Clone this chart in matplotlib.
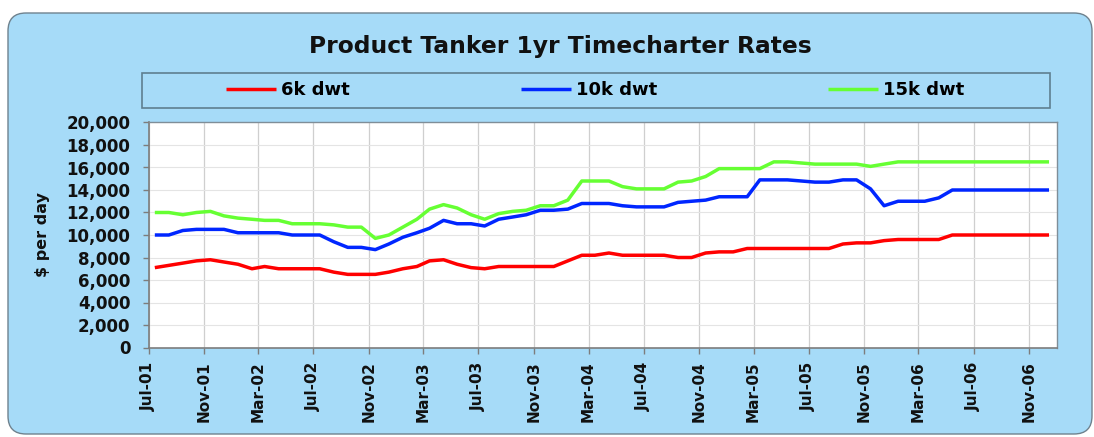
"""
Product tanker 1yr timecharter rates, 6k / 10k / 15k dwt
"""
import matplotlib
matplotlib.use("Agg")
import matplotlib.pyplot as plt
import matplotlib.dates as mdates
from matplotlib.patches import FancyBboxPatch, Rectangle
from matplotlib.ticker import MultipleLocator, StrMethodFormatter
import pandas as pd

# ── Data (monthly, Jul-01 .. Dec-06) ─────────────────────────────────
months = pd.date_range("2001-07-01", "2006-12-01", freq="MS")

rate_6k = [
    7100, 7300, 7500, 7700, 7800, 7600, 7400, 7000, 7200, 7000, 7000, 7000, 7000, 6700, 6500, 6500,
    6500, 6700, 7000, 7200, 7700, 7800, 7400, 7100, 7000, 7200, 7200, 7200, 7200, 7200, 7700, 8200,
    8200, 8400, 8200, 8200, 8200, 8200, 8000, 8000, 8400, 8500, 8500, 8800, 8800, 8800, 8800, 8800,
    8800, 8800, 9200, 9300, 9300, 9500, 9600, 9600, 9600, 9600,
    10000, 10000, 10000, 10000, 10000, 10000, 10000, 10000,
]
rate_10k = [
    10000, 10000, 10400, 10500, 10500, 10500, 10200, 10200, 10200, 10200, 10000, 10000, 10000, 9400, 8900, 8900,
    8700, 9200, 9800, 10200, 10600, 11300, 11000, 11000, 10800, 11400, 11600, 11800, 12200, 12200, 12300, 12800,
    12800, 12800, 12600, 12500, 12500, 12500, 12900, 13000, 13100, 13400, 13400, 13400, 14900, 14900, 14900, 14800,
    14700, 14700, 14900, 14900, 14100, 12600, 13000, 13000, 13000, 13300,
    14000, 14000, 14000, 14000, 14000, 14000, 14000, 14000,
]
rate_15k = [
    12000, 12000, 11800, 12000, 12100, 11700, 11500, 11400, 11300, 11300, 11000, 11000, 11000, 10900, 10700, 10700,
    9700, 10000, 10700, 11400, 12300, 12700, 12400, 11800, 11400, 11900, 12100, 12200, 12600, 12600, 13100, 14800,
    14800, 14800, 14300, 14100, 14100, 14100, 14700, 14800, 15200, 15900, 15900, 15900, 15900, 16500, 16500, 16400,
    16300, 16300, 16300, 16300, 16100, 16300,
    16500, 16500, 16500, 16500, 16500, 16500, 16500, 16500, 16500, 16500, 16500, 16500,
]
series_names = ["6k dwt", "10k dwt", "15k dwt"]
series_colors = ["#ff0000", "#0026ff", "#66ff33"]

# ── Colours ──────────────────────────────────────────────────────────
C_PANEL = "#a6dbf8"
C_PANEL_EDGE = "#6f828e"
C_LEG_EDGE = "#5f7f90"
C_TEXT = "#111111"

plt.rcParams["font.family"] = "DejaVu Sans"
plt.rcParams["font.weight"] = "bold"

W, H = 1094, 437
fig = plt.figure(figsize=(W / 100, H / 100), dpi=100)
fig.patch.set_facecolor("white")

# background layer in pixel coordinates
bg = fig.add_axes([0, 0, 1, 1])
bg.set_xlim(0, W)
bg.set_ylim(H, 0)
bg.axis("off")
bg.add_patch(FancyBboxPatch((8, 13), 1084, 421,
                            boxstyle="round,pad=0,rounding_size=18",
                            fc=C_PANEL, ec=C_PANEL_EDGE, lw=1.0))
bg.text(560, 47, "Product Tanker 1yr Timecharter Rates", fontsize=16.8,
        fontweight="bold", color=C_TEXT, ha="center", va="center")
bg.add_patch(Rectangle((142, 73), 908, 35, fc="none", ec=C_LEG_EDGE, lw=1.2))

# ── Plot area ────────────────────────────────────────────────────────
ax = fig.add_axes([148.5 / W, 1 - 347.5 / H, 908.2 / W, 225 / H])
ax.set_facecolor("white")

x = months + pd.Timedelta(days=14)
lines = []
for vals, name, col in zip([rate_6k, rate_10k, rate_15k], series_names, series_colors):
    ln, = ax.plot(x, vals, color=col, lw=2.5, label=name,
                  solid_joinstyle="round", solid_capstyle="butt")
    lines.append(ln)

ax.set_xlim(pd.Timestamp("2001-07-01"), pd.Timestamp("2007-01-01"))
ax.set_ylim(0, 20000)
ax.xaxis.set_major_locator(mdates.MonthLocator(bymonth=[3, 7, 11]))
ax.xaxis.set_major_formatter(mdates.DateFormatter("%b-%y"))
ax.yaxis.set_major_locator(MultipleLocator(2000))
ax.yaxis.set_major_formatter(StrMethodFormatter("{x:,.0f}"))

ax.xaxis.grid(True, color="#cfcfcf", lw=0.9)
ax.yaxis.grid(True, color="#e4e4e4", lw=0.8)
ax.set_axisbelow(True)

for side in ["left", "bottom"]:
    ax.spines[side].set_color("#7d7d7d")
    ax.spines[side].set_linewidth(1.2)
for side in ["top", "right"]:
    ax.spines[side].set_color("#7f8e98")
    ax.spines[side].set_linewidth(1.0)

ax.tick_params(axis="y", direction="out", length=4, width=1, color="#7d7d7d",
               labelsize=12, labelcolor=C_TEXT, pad=9)
ax.tick_params(axis="x", direction="out", length=4, width=1, color="#7d7d7d",
               labelsize=11, labelcolor=C_TEXT, pad=6)
for lbl in ax.get_xticklabels():
    lbl.set_rotation(90)
    lbl.set_ha("center")
    lbl.set_va("top")

ax.set_ylabel("$ per day", fontsize=11.5, fontweight="bold", color=C_TEXT)
ax.yaxis.set_label_coords(-0.108, 0.5)

# ── Legend ───────────────────────────────────────────────────────────
ax.legend(handles=lines, loc="center", bbox_to_anchor=(595 / W, 1 - 90 / H),
          bbox_transform=fig.transFigure, ncol=3, frameon=False,
          prop={"size": 13, "weight": "bold"}, handlelength=2.77,
          handletextpad=0.28, columnspacing=9.45)

fig.savefig("out.png", dpi=100, facecolor="white")
